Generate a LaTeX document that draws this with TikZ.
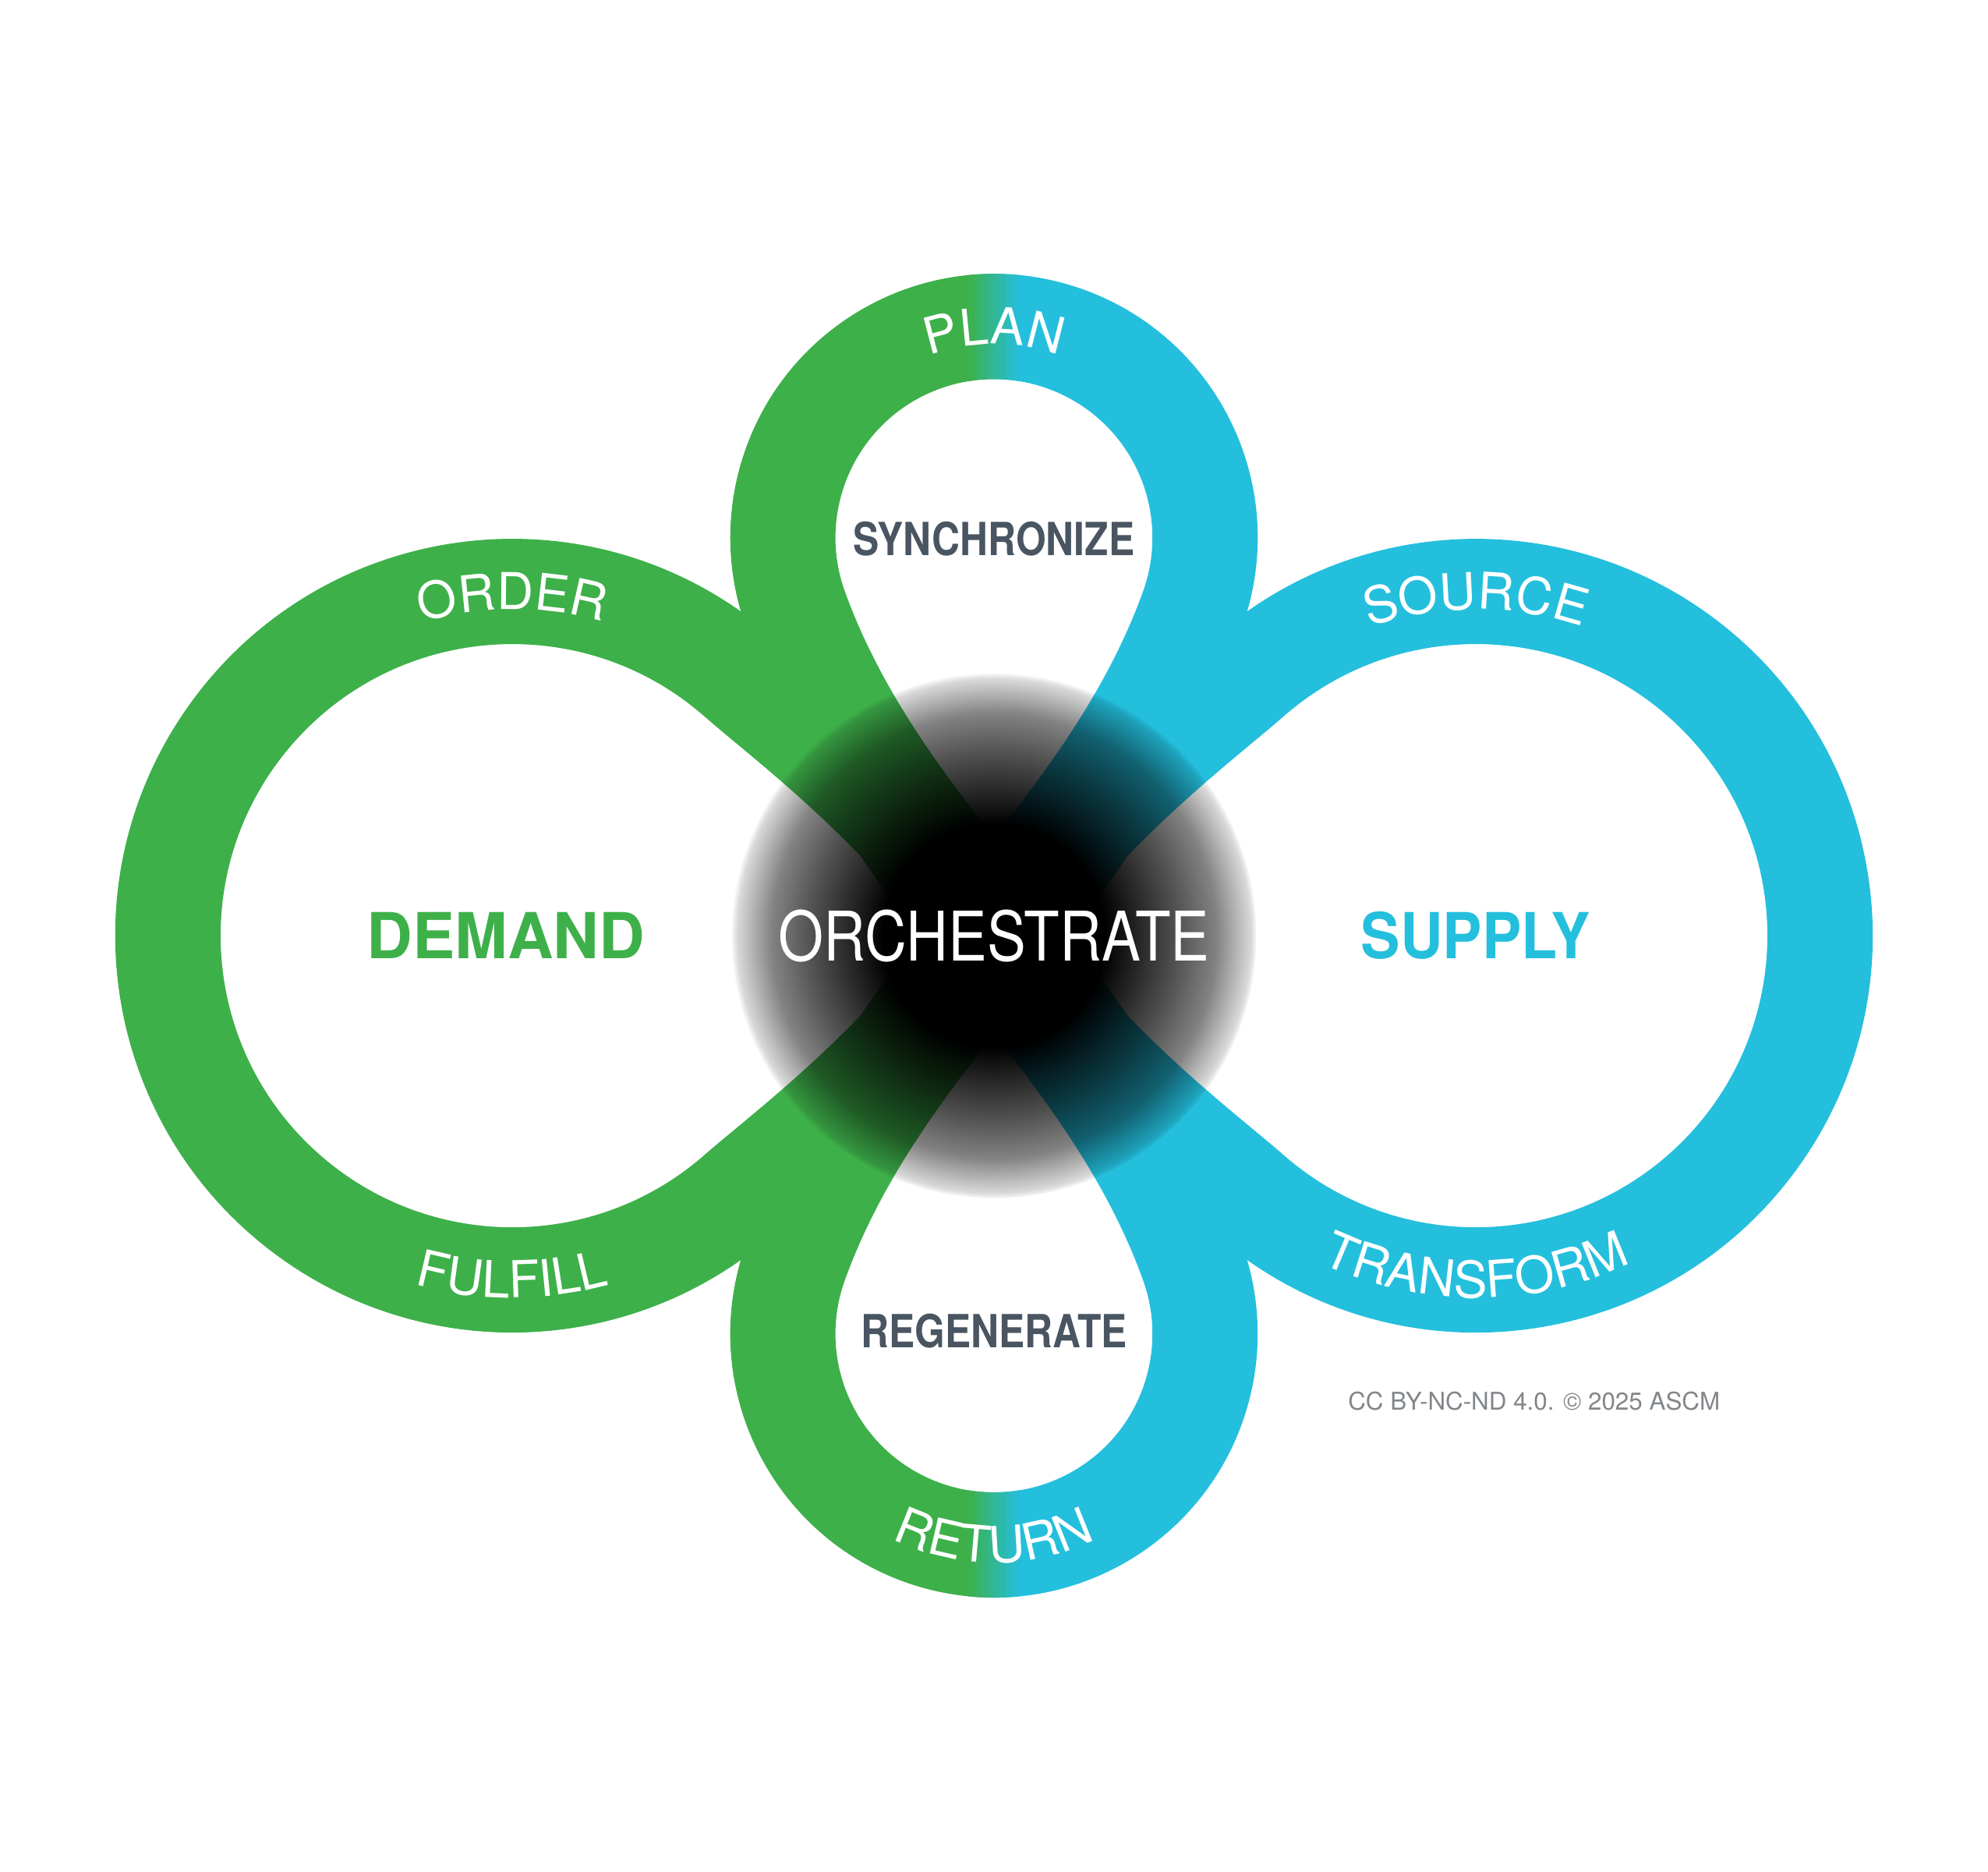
\documentclass[tikz,border=0pt]{standalone}
\usepackage{fontspec}
\setmainfont{TeX Gyre Heros}
\setsansfont{TeX Gyre Heros}
\newfontfamily\narrowfont[FakeStretch=0.85]{TeX Gyre Heros}
\usetikzlibrary{decorations.text,fadings}

\definecolor{demandgreen}{RGB}{62,176,74}
\definecolor{supplycyan}{RGB}{36,191,221}
\definecolor{slategray}{RGB}{73,85,97}
\definecolor{notegray}{RGB}{130,134,138}

\newcommand{\ribbonshape}{
  (-199.7,255.8) arc[start angle=54.8, end angle=305.2, radius=313]
    arc[start angle=163.75, end angle=376.25, radius=208]
    arc[start angle=-125.2, end angle=125.2, radius=313]
    arc[start angle=-16.25, end angle=196.25, radius=208] -- cycle
  (0,78) .. controls (-62.9,155.7) and (-97,214.8) .. (-117.5,271.2)
    arc[start angle=200, end angle=-20, radius=125]
    .. controls (97,214.8) and (62.9,155.7) .. (0,78) -- cycle
  (0,-78) .. controls (-62.9,-155.7) and (-97,-214.8) .. (-117.5,-271.2)
    arc[start angle=160, end angle=380, radius=125]
    .. controls (97,-214.8) and (62.9,-155.7) .. (0,-78) -- cycle
  (-61.6,0) -- (-105.4,63) .. controls (-154,113.4) and (-202.2,150) .. (-228.5,173.1)
    arc[start angle=48.8, end angle=311.2, radius=230]
    .. controls (-202.2,-150) and (-154,-113.4) .. (-105.4,-63) -- cycle
  (61.6,0) -- (105.4,63) .. controls (154,113.4) and (202.2,150) .. (228.5,173.1)
    arc[start angle=131.2, end angle=-131.2, radius=230]
    .. controls (202.2,-150) and (154,-113.4) .. (105.4,-63) -- cycle}
\newcommand{\lblfont}{\fontsize{40}{40}\selectfont}

\pgfdeclareradialshading{orchshade}{\pgfpointorigin}{color(0bp)=(white); color(10.5bp)=(white);
  color(17.6bp)=(white!67!black); color(21.1bp)=(white!49!black); color(24.4bp)=(white!15!black);
  color(25bp)=(black); color(50bp)=(black)}
\pgfdeclarefading{orchfade}{\pgfuseshading{orchshade}}

\begin{document}
\begin{tikzpicture}[x=1pt, y=1pt,
  arclabel/.style={decorate, decoration={text along path, text align=center,
    text={|\lblfont\color{white}|#1}}},
  hubtext/.style={font=\fontsize{50}{50}\selectfont\bfseries},
  looptext/.style={font=\narrowfont\fontsize{36}{36}\selectfont\bfseries, text=slategray}]
\useasboundingbox (-784,-738) rectangle (784,738);

\begin{scope}
\clip (-784,-738) rectangle (0,738);
\fill[demandgreen, even odd rule] \ribbonshape;
\end{scope}
\begin{scope}
\clip (0,-738) rectangle (784,738);
\fill[supplycyan, even odd rule] \ribbonshape;
\end{scope}
\foreach \s [count=\k] in {-20,-15,...,15}{
  \pgfmathsetmacro{\mix}{(\k-0.5)*12.5}
  \begin{scope}
  \clip (\s,-738) rectangle (\s+5.3,738);
  \fill[supplycyan!\mix!demandgreen, even odd rule] \ribbonshape;
  \end{scope}
}

\path[arclabel=ORDER] ([shift={(-380,0)}]120:257.5) arc[start angle=120, end angle=60, radius=257.5];
\path[arclabel=SOURCE] ([shift={(380,0)}]120:257.5) arc[start angle=120, end angle=60, radius=257.5];
\path[arclabel=PLAN] ([shift={(0,314)}]150:152.5) arc[start angle=150, end angle=30, radius=152.5];
\path[arclabel=FULFILL] ([shift={(-380,0)}]235:285.5) arc[start angle=235, end angle=305, radius=285.5];
\path[arclabel=TRANSFORM] ([shift={(380,0)}]225:285.5) arc[start angle=225, end angle=315, radius=285.5];
\path[arclabel=RETURN] ([shift={(0,-314)}]210:180.5) arc[start angle=210, end angle=330, radius=180.5];

\fill[black, path fading=orchfade] (0,0) circle (207);

\node[font=\narrowfont\fontsize{54}{54}\selectfont, text=white] (orch) at (0,0) {ORCHESTRATE};
\node[hubtext, text=demandgreen] (demand) at (-385,0) {DEMAND};
\node[hubtext, text=supplycyan] (supply) at (380,0) {\scalebox{0.93}[1]{SUPPLY}};
\node[looptext] (sync) at (0,313) {SYNCHRONIZE};
\node[looptext] (regen) at (0,-312) {REGENERATE};
\node[font=\fontsize{19.3}{19.3}\selectfont, text=notegray] (note) at (426,-367) {CC BY-NC-ND 4.0. © 2025 ASCM};
\end{tikzpicture}
\end{document}
